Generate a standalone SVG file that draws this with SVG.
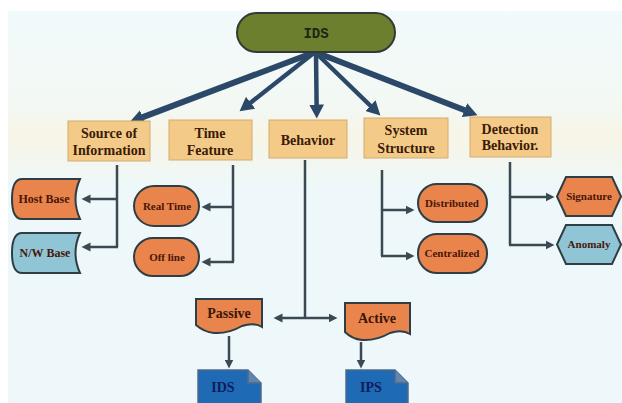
<svg xmlns="http://www.w3.org/2000/svg" width="622" height="403" viewBox="0 0 622 403">
<defs>
<linearGradient id="bg" x1="0" y1="0" x2="0" y2="1">
<stop offset="0" stop-color="#f1fafc"/>
<stop offset="0.25" stop-color="#f3f8f3"/>
<stop offset="0.32" stop-color="#f7f5e6"/>
<stop offset="0.45" stop-color="#eef8fa"/>
<stop offset="1" stop-color="#eef7fa"/>
</linearGradient>
<marker id="big" markerUnits="userSpaceOnUse" markerWidth="15" markerHeight="15" viewBox="0 0 15 15" refX="0.5" refY="7.5" orient="auto">
<path d="M0,0 L14,7.5 L0,15 Z" fill="#2c4868"/>
</marker>
<marker id="sm" markerUnits="userSpaceOnUse" markerWidth="10" markerHeight="10" viewBox="0 0 10 10" refX="0.5" refY="5" orient="auto">
<path d="M0,0.5 L9,5 L0,9.5 Z" fill="#3b4a52"/>
</marker>
<style>
.top{stroke:#2c4868;fill:none;marker-end:url(#big)}
.ln{stroke:#3b4a52;stroke-width:2.5;fill:none}
.ar{stroke:#3b4a52;stroke-width:2.5;fill:none;marker-end:url(#sm)}
.tan{fill:#f3ca87;stroke:#d2ac70;stroke-width:1}
.org{fill:#e8844c;stroke:#2f3d44;stroke-width:2}
.blu{fill:#8fc5d5;stroke:#2f3d44;stroke-width:2}
.doc{fill:#1f6ab4;stroke:#4f6b88;stroke-width:1.5}
.t{font-family:"Liberation Serif",serif;font-weight:bold;text-anchor:middle}
.tb{font-size:14px;fill:#3a1a08}
.ts{font-size:11px;fill:#4a1608}
.tl{font-size:12px;fill:#4a1608}
.tw{font-size:14px;fill:#3a1608}
.td{font-size:14px;fill:#0e1c5c}
</style>
</defs>
<rect x="0" y="0" width="622" height="403" fill="#ffffff"/>
<rect x="8" y="11" width="614" height="392" fill="url(#bg)"/>

<g id="connectors">
<line class="top" x1="315" y1="52" x2="142.2" y2="117.4" stroke-width="6"/>
<line class="top" x1="315" y1="52" x2="250.2" y2="103" stroke-width="4.5"/>
<line class="top" x1="316" y1="52" x2="316.6" y2="105" stroke-width="4.5"/>
<line class="top" x1="315" y1="52" x2="370.7" y2="106" stroke-width="4.5"/>
<line class="top" x1="315" y1="52" x2="464.9" y2="110.3" stroke-width="6"/>

<line class="ln" x1="117" y1="165" x2="117" y2="247"/>
<line class="ar" x1="118" y1="199" x2="90" y2="199"/>
<line class="ar" x1="118" y1="247" x2="90" y2="247"/>

<line class="ln" x1="233" y1="165" x2="233" y2="262"/>
<line class="ar" x1="234" y1="207" x2="210" y2="207"/>
<line class="ar" x1="234" y1="262" x2="210" y2="262"/>

<line class="ln" x1="305" y1="160" x2="305" y2="318"/>
<line class="ar" x1="305" y1="318" x2="282" y2="318"/>
<line class="ar" x1="305" y1="318" x2="329" y2="318"/>
<line class="ar" x1="229" y1="336" x2="229" y2="360"/>
<line class="ar" x1="361" y1="342" x2="361" y2="360"/>

<line class="ln" x1="382" y1="170" x2="382" y2="256"/>
<line class="ar" x1="381" y1="210" x2="406" y2="210"/>
<line class="ar" x1="381" y1="256" x2="406" y2="256"/>

<line class="ln" x1="510" y1="162" x2="510" y2="245"/>
<line class="ar" x1="509" y1="197" x2="546" y2="197"/>
<line class="ar" x1="509" y1="245" x2="546" y2="245"/>
</g>

<g id="ids-root">
<rect x="237" y="13" width="158" height="39" rx="19.5" fill="#6c7f2f" stroke="#333a33" stroke-width="2"/>
<text x="316" y="38" font-family="Liberation Mono,monospace" font-weight="bold" font-size="14" fill="#1a2614" text-anchor="middle">IDS</text>
</g>

<g id="source-of-information">
<rect class="tan" x="68" y="121" width="82" height="40"/>
<text class="t tb" x="109" y="138">Source of</text>
<text class="t tb" x="109" y="155">Information</text>
</g>
<g id="time-feature">
<rect class="tan" x="169" y="120" width="83" height="40"/>
<text class="t tb" x="210" y="138">Time</text>
<text class="t tb" x="210" y="155">Feature</text>
</g>
<g id="behavior">
<rect class="tan" x="269" y="120" width="78" height="38"/>
<text class="t tb" x="308" y="145">Behavior</text>
</g>
<g id="system-structure">
<rect class="tan" x="364" y="118" width="84" height="40"/>
<text class="t tb" x="406" y="135">System</text>
<text class="t tb" x="406" y="153">Structure</text>
</g>
<g id="detection-behavior">
<rect class="tan" x="470" y="117" width="81" height="40"/>
<text class="t tb" x="510" y="134">Detection</text>
<text class="t tb" x="510" y="150">Behavior.</text>
</g>

<g id="host-base">
<path class="org" d="M22,179 H80 Q71,199 80,219 H22 Q12,219 12,199 Q12,179 22,179 Z"/>
<text class="t tl" x="44" y="203">Host Base</text>
</g>
<g id="nw-base">
<path class="blu" d="M22,233 H80 Q71,253 80,273 H22 Q12,273 12,253 Q12,233 22,233 Z"/>
<text class="t tl" x="45" y="257">N/W Base</text>
</g>

<g id="real-time">
<rect class="org" x="134" y="186" width="65" height="40" rx="20"/>
<text class="t ts" x="167" y="210">Real Time</text>
</g>
<g id="off-line">
<rect class="org" x="134" y="238" width="65" height="38" rx="19"/>
<text class="t ts" x="167" y="261">Off line</text>
</g>

<g id="distributed">
<rect class="org" x="418" y="184" width="69" height="38" rx="19"/>
<text class="t ts" x="452" y="207">Distributed</text>
</g>
<g id="centralized">
<rect class="org" x="418" y="234" width="69" height="39" rx="19"/>
<text class="t ts" x="452" y="257">Centralized</text>
</g>

<g id="signature">
<polygon class="org" points="557,196.5 566,177 612,177 621,196.5 612,216 566,216"/>
<text class="t ts" x="589" y="200">Signature</text>
</g>
<g id="anomaly">
<polygon class="blu" points="557,244.5 566,225 612,225 621,244.5 612,264 566,264"/>
<text class="t ts" x="589" y="248">Anomaly</text>
</g>

<g id="passive">
<path class="org" d="M196,299 H262 V327 Q254,322 242,326 Q228,334 214,333 Q204,332 196,325 Z"/>
<text class="t tw" x="229" y="318">Passive</text>
</g>
<g id="active">
<path class="org" d="M345,303 H410 V334 Q402,329 390,333 Q376,341 362,340 Q352,339 345,332 Z"/>
<text class="t tw" x="377" y="323">Active</text>
</g>

<g id="ids-doc">
<path class="doc" d="M198,370 H248 L261,383 V410 H198 Z"/>
<path d="M248,370 V383 H261" fill="#5f86b0" stroke="#4f6b88" stroke-width="1.5"/>
<text class="t td" x="223" y="392">IDS</text>
</g>
<g id="ips-doc">
<path class="doc" d="M346,370 H395 L408,383 V410 H346 Z"/>
<path d="M395,370 V383 H408" fill="#5f86b0" stroke="#4f6b88" stroke-width="1.5"/>
<text class="t td" x="371" y="392">IPS</text>
</g>
</svg>
